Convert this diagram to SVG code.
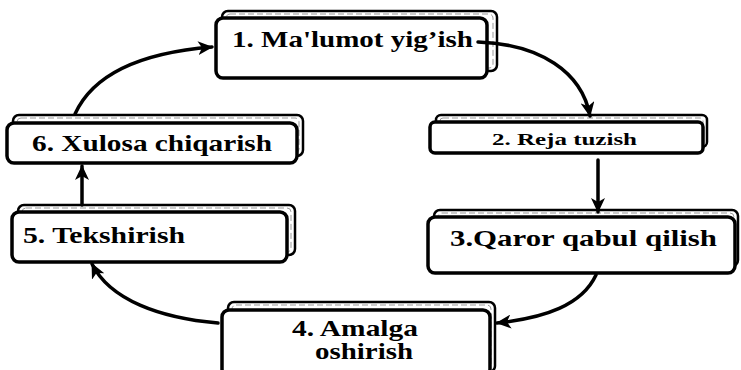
<svg xmlns="http://www.w3.org/2000/svg" width="741" height="370" viewBox="0 0 741 370">
<style>
.plate{fill:#fff;stroke:#000;stroke-width:2.5}
.inner{fill:none;stroke:#999;stroke-width:1;stroke-dasharray:6 3}
.box{fill:#fff;stroke:#000;stroke-width:3.5}
.t{font-family:"Liberation Serif","DejaVu Serif",serif;font-weight:bold;font-size:23px;fill:#000}
.s{font-size:16px}
.c{fill:none;stroke:#000;stroke-width:3.5;stroke-linecap:round}
</style>
<defs>
<marker id="ah" markerUnits="userSpaceOnUse" markerWidth="16" markerHeight="14" refX="14" refY="7" orient="auto">
<path d="M0,0 L15,7 L0,14 L4,7 Z" fill="#000"/>
</marker>
</defs>
<rect width="741" height="370" fill="#fff"/>

<g id="node1">
<rect class="plate" x="222" y="11" width="275" height="60" rx="6"/>
<rect class="inner" x="226" y="14" width="267" height="54" rx="4"/>
<rect class="box" x="216" y="18" width="271" height="60" rx="7"/>
<text class="t" x="232" y="47" textLength="241" lengthAdjust="spacingAndGlyphs">1. Ma'lumot yig’ish</text>
</g>

<g id="node2">
<rect class="plate" x="436" y="115" width="271" height="32" rx="5"/>
<rect class="inner" x="440" y="118" width="263" height="26" rx="3"/>
<rect class="box" x="430" y="122" width="273" height="31" rx="5"/>
<text class="t s" x="492" y="145" textLength="145" lengthAdjust="spacingAndGlyphs">2. Reja tuzish</text>
</g>

<g id="node3">
<rect class="plate" x="434" y="210" width="304" height="56" rx="6"/>
<rect class="inner" x="438" y="213" width="296" height="50" rx="4"/>
<rect class="box" x="428" y="217" width="307" height="56" rx="7"/>
<text class="t" x="450" y="246" textLength="267" lengthAdjust="spacingAndGlyphs">3.Qaror qabul qilish</text>
</g>

<g id="node4">
<rect class="plate" x="228" y="302" width="267" height="70" rx="6"/>
<rect class="inner" x="232" y="305" width="259" height="64" rx="4"/>
<rect class="box" x="222" y="310" width="268" height="66" rx="7"/>
<text class="t" x="292" y="336" textLength="126" lengthAdjust="spacingAndGlyphs">4. Amalga</text>
<text class="t" x="315" y="359" textLength="98" lengthAdjust="spacingAndGlyphs">oshirish</text>
</g>

<g id="node5">
<rect class="plate" x="18" y="205" width="277" height="50" rx="6"/>
<rect class="inner" x="22" y="208" width="269" height="44" rx="4"/>
<rect class="box" x="12" y="212" width="275" height="50" rx="7"/>
<text class="t" x="23" y="243" textLength="162" lengthAdjust="spacingAndGlyphs">5. Tekshirish</text>
</g>

<g id="node6">
<rect class="plate" x="13" y="115" width="290" height="41" rx="6"/>
<rect class="inner" x="17" y="118" width="282" height="35" rx="4"/>
<rect class="box" x="7" y="123" width="290" height="40" rx="7"/>
<text class="t" x="32" y="151" textLength="240" lengthAdjust="spacingAndGlyphs">6. Xulosa chiqarish</text>
</g>

<g id="connectors">
<path class="c" d="M75,114 C95,70 150,52 212,47" marker-end="url(#ah)"/>
<path class="c" d="M478,42 C540,44 582,72 590,116" marker-end="url(#ah)"/>
<path class="c" d="M598,160 L598,212" marker-end="url(#ah)"/>
<path class="c" d="M596,275 C582,305 545,318 497,323" marker-end="url(#ah)"/>
<path class="c" d="M218,323 C160,318 110,300 92,264" marker-end="url(#ah)"/>
<path class="c" d="M82,205 L82,166" marker-end="url(#ah)"/>
</g>
</svg>
